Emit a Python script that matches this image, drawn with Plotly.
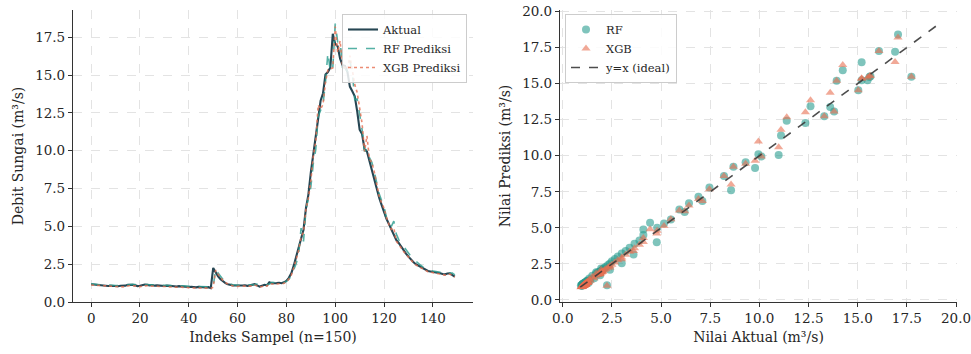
import plotly.graph_objects as go

# ---------------- data ----------------
index = list(range(150))

actual = [
    1.17, 1.15, 1.16, 1.13, 1.14, 1.12, 1.08, 1.06, 1.07, 1.05,
    1.06, 1.04, 1.07, 1.05, 1.08, 1.14, 1.16, 1.13, 1.10, 1.05,
    1.07, 1.12, 1.15, 1.13, 1.10, 1.12, 1.08, 1.10, 1.07, 1.09,
    1.06, 1.08, 1.05, 1.07, 1.04, 1.02, 1.05, 1.03, 1.00, 1.02,
    0.99, 1.01, 0.98, 0.97, 1.00, 0.98, 0.99, 0.96, 0.98, 0.92,
    2.25, 1.95, 1.70, 1.50, 1.35, 1.25, 1.18, 1.13, 1.10, 1.09,
    1.08, 1.10, 1.09, 1.11, 1.07, 1.10, 1.12, 1.18, 1.10, 1.02,
    1.08, 1.14, 1.10, 1.30, 1.24, 1.22, 1.25, 1.27, 1.24, 1.30,
    1.40, 1.60, 1.90, 2.40, 3.00, 3.60, 4.10, 4.78, 6.20, 7.10,
    8.56, 9.78, 10.98, 12.34, 13.30, 13.80, 15.03, 15.20, 15.50, 17.73,
    17.05, 16.90, 16.08, 15.65, 15.60, 15.20, 14.24, 13.93, 13.60, 12.60,
    11.39, 11.10, 10.10, 9.95, 9.30, 8.68, 8.20, 7.46, 6.90, 6.42,
    5.93, 5.50, 5.15, 4.80, 4.44, 4.10, 3.90, 3.65, 3.40, 3.20,
    3.00, 2.80, 2.65, 2.50, 2.40, 2.30, 2.20, 2.12, 2.05, 2.02,
    2.00, 1.97, 1.95, 1.90, 1.85, 1.83, 1.88, 1.90, 1.78, 1.68,
]

rf_pred = [
    1.20, 1.18, 1.17, 1.17, 1.14, 1.15, 1.13, 1.11, 1.10, 1.09,
    1.09, 1.09, 1.08, 1.10, 1.09, 1.13, 1.17, 1.17, 1.15, 1.11,
    1.10, 1.11, 1.15, 1.16, 1.14, 1.13, 1.13, 1.11, 1.12, 1.10,
    1.10, 1.09, 1.10, 1.08, 1.09, 1.07, 1.06, 1.07, 1.05, 1.04,
    1.04, 1.03, 1.03, 1.02, 1.01, 1.03, 1.02, 1.01, 1.00, 1.00,
    1.02, 2.18, 1.92, 1.68, 1.49, 1.35, 1.26, 1.19, 1.14, 1.11,
    1.11, 1.12, 1.12, 1.12, 1.12, 1.11, 1.13, 1.15, 1.19, 1.12,
    1.08, 1.12, 1.15, 1.18, 1.30, 1.27, 1.26, 1.28, 1.29, 1.28,
    1.36, 1.50, 1.72, 2.10, 2.55, 3.15, 4.88, 4.00, 6.10, 6.86,
    7.60, 9.14, 10.05, 12.26, 12.74, 13.07, 14.53, 16.47, 15.23, 15.47,
    18.40, 17.20, 17.26, 15.50, 15.45, 15.23, 15.93, 15.19, 13.37, 13.42,
    12.42, 11.40, 9.95, 10.10, 9.55, 9.23, 8.60, 7.79, 7.15, 6.70,
    6.28, 5.58, 5.30, 5.00, 5.35, 4.50, 4.12, 3.90, 3.62, 3.40,
    3.22, 3.02, 2.84, 2.68, 2.53, 2.43, 2.31, 2.23, 2.14, 2.08,
    2.05, 2.03, 2.00, 1.98, 1.93, 1.88, 1.86, 1.91, 1.92, 1.80,
]

xgb_pred = [
    1.12, 1.11, 1.10, 1.09, 1.09, 1.07, 1.05, 1.02, 1.02, 1.00,
    1.01, 0.99, 1.00, 1.00, 1.01, 1.06, 1.09, 1.08, 1.05, 1.01,
    1.01, 1.05, 1.08, 1.08, 1.05, 1.06, 1.03, 1.04, 1.02, 1.03,
    1.01, 1.02, 1.00, 1.01, 0.99, 0.97, 0.99, 0.98, 0.95, 0.97,
    0.94, 0.96, 0.93, 0.92, 0.95, 0.93, 0.94, 0.91, 0.93, 0.89,
    0.98, 2.10, 1.84, 1.60, 1.42, 1.28, 1.19, 1.12, 1.07, 1.04,
    1.03, 1.05, 1.04, 1.06, 1.02, 1.05, 1.07, 1.12, 1.06, 0.98,
    1.02, 1.08, 1.05, 1.22, 1.19, 1.17, 1.19, 1.21, 1.19, 1.24,
    1.33, 1.51, 1.78, 2.25, 2.82, 3.40, 4.30, 4.60, 6.15, 6.86,
    8.00, 9.65, 10.58, 13.02, 12.74, 13.07, 14.53, 15.35, 15.40, 15.47,
    18.20, 16.50, 17.26, 15.55, 15.50, 15.35, 16.28, 15.19, 14.37, 13.84,
    12.67, 11.80, 9.95, 10.98, 9.45, 9.23, 8.60, 7.67, 7.00, 6.55,
    6.20, 5.60, 5.12, 4.80, 4.90, 4.02, 3.82, 3.58, 3.34, 3.14,
    2.94, 2.75, 2.60, 2.45, 2.35, 2.25, 2.15, 2.07, 2.00, 1.97,
    1.95, 1.92, 1.90, 1.85, 1.80, 1.78, 1.82, 1.85, 1.74, 1.64,
]

# ---------------- style ----------------
C_ACT = "#264653"
C_RF = "#2A9D8F"
C_XGB = "#E76F51"
FONT = "DejaVu Serif"
TXT = "#262626"

fig = go.Figure()

# Left: time series
fig.add_trace(go.Scatter(x=index, y=actual, mode="lines", name="Aktual",
                         line=dict(color=C_ACT, width=2.1), xaxis="x", yaxis="y",
                         legend="legend"))
fig.add_trace(go.Scatter(x=index, y=rf_pred, mode="lines", name="RF Prediksi",
                         line=dict(color=C_RF, width=1.6, dash="dash"), opacity=0.8,
                         xaxis="x", yaxis="y", legend="legend"))
fig.add_trace(go.Scatter(x=index, y=xgb_pred, mode="lines", name="XGB Prediksi",
                         line=dict(color=C_XGB, width=1.6, dash="dot"), opacity=0.8,
                         xaxis="x", yaxis="y", legend="legend"))

# Right: scatter
fig.add_trace(go.Scatter(x=actual, y=rf_pred, mode="markers", name="RF",
                         marker=dict(color=C_RF, size=8, opacity=0.6, symbol="circle",
                                     line=dict(width=0)),
                         xaxis="x2", yaxis="y2", legend="legend2"))
fig.add_trace(go.Scatter(x=actual, y=xgb_pred, mode="markers", name="XGB",
                         marker=dict(color=C_XGB, size=8, opacity=0.6, symbol="triangle-up",
                                     line=dict(width=0)),
                         xaxis="x2", yaxis="y2", legend="legend2"))
lo = min(actual + rf_pred + xgb_pred)
hi = max(actual + rf_pred + xgb_pred) * 1.045
fig.add_trace(go.Scatter(x=[lo, hi], y=[lo, hi], mode="lines", name="y=x (ideal)",
                         line=dict(color="#3a3a3a", width=1.6, dash="dash"), opacity=0.9,
                         xaxis="x2", yaxis="y2", legend="legend2"))

W, H = 971, 354
def fx(px):
    return px / W
def fy(py):
    return 1 - py / H

axis_common = dict(
    showline=True, linecolor="#333333", linewidth=1.2, mirror=False,
    ticks="outside", ticklen=4, tickwidth=1.1, tickcolor="#333333",
    showgrid=True, gridcolor="#e3e3e3", gridwidth=0.8, griddash="dash",
    zeroline=False, automargin=False, ticklabeloverflow="allow",
    tickfont=dict(family=FONT, size=13.5, color=TXT),
)
TFONT = dict(family=FONT, size=14, color=TXT)

fig.update_layout(
    width=W, height=H,
    margin=dict(l=0, r=0, t=0, b=0, autoexpand=False),
    paper_bgcolor="white", plot_bgcolor="white",
    font=dict(family=FONT, color=TXT),
    showlegend=True,
    xaxis=dict(domain=[fx(73), fx(473)], range=[-7.45, 156.45], tick0=0, dtick=20,
               anchor="y",
               title=dict(text="Indeks Sampel (n=150)", font=TFONT, standoff=6),
               **axis_common),
    yaxis=dict(domain=[fy(302), fy(10)], range=[0, 19.3], tick0=0, dtick=2.5,
               tickformat=".1f", anchor="x",
               title=dict(text="Debit Sungai (m³/s)", font=TFONT, standoff=8),
               **axis_common),
    xaxis2=dict(domain=[fx(560), fx(957)], range=[-0.14, 20.05], tick0=0, dtick=2.5,
                tickformat=".1f", anchor="y2",
                title=dict(text="Nilai Aktual (m³/s)", font=TFONT, standoff=6),
                **axis_common),
    yaxis2=dict(domain=[fy(302), fy(10)], range=[-0.14, 20.1], tick0=0, dtick=2.5,
                tickformat=".1f", anchor="x2",
                title=dict(text="Nilai Prediksi (m³/s)", font=TFONT, standoff=8),
                **axis_common),
    legend=dict(x=fx(467), y=fy(14), xanchor="right", yanchor="top",
                bgcolor="rgba(255,255,255,0.85)", bordercolor="#cccccc", borderwidth=1,
                font=dict(family=FONT, size=11.5, color=TXT), tracegroupgap=0,
                itemwidth=30),
    legend2=dict(x=fx(565), y=fy(14), xanchor="left", yanchor="top",
                 bgcolor="rgba(255,255,255,0.85)", bordercolor="#cccccc", borderwidth=1,
                 font=dict(family=FONT, size=11.5, color=TXT), tracegroupgap=0,
                 itemwidth=30),
)

# remove the browser's default body margin so the 971x354 figure fills the window
fig.write_html("out.html", config={"displayModeBar": False},
               post_script="document.body.style.margin='0px';")
